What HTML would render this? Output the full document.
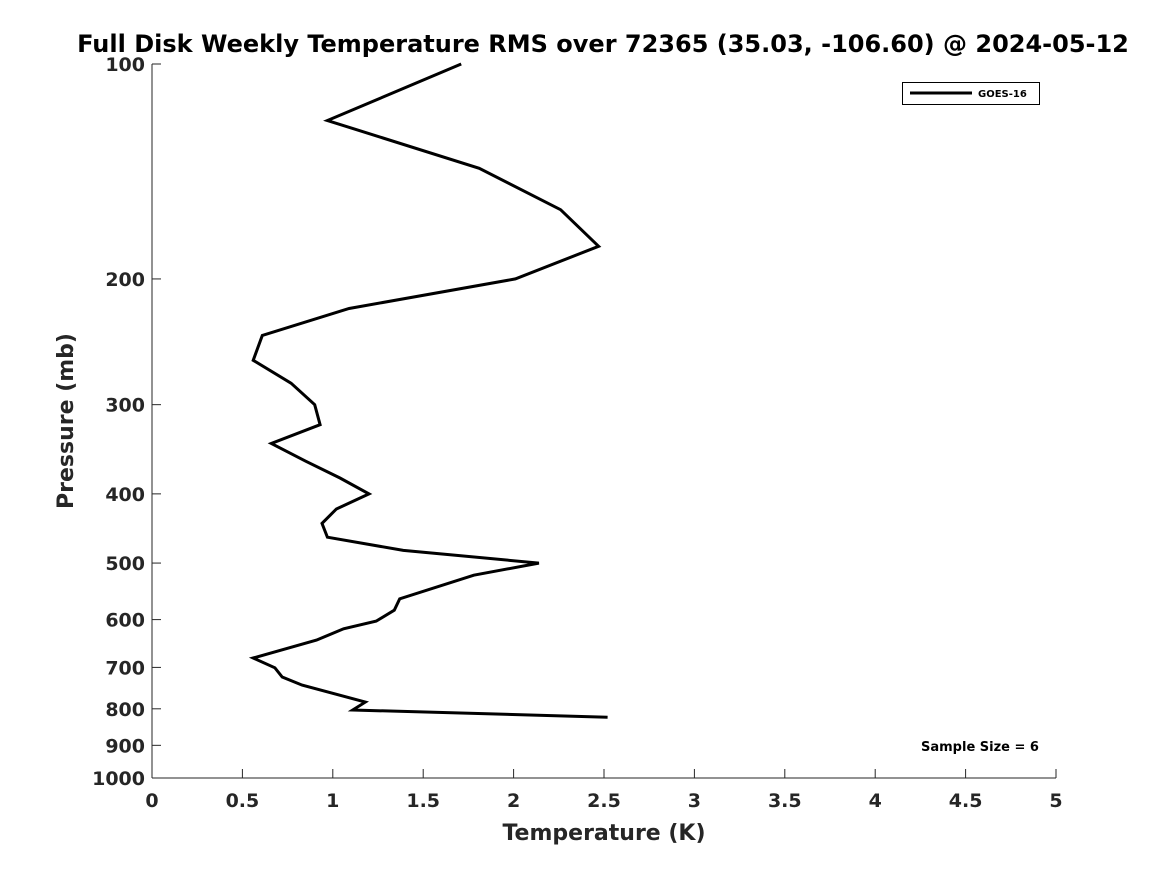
<!DOCTYPE html>
<html><head><meta charset="utf-8"><style>
body{margin:0;background:#fff;}
svg text{font-family:"DejaVu Sans","Liberation Sans",sans-serif;font-weight:bold;fill:#262626;}
</style></head><body>
<svg width="1167" height="875" xmlns="http://www.w3.org/2000/svg">
<rect width="1167" height="875" fill="#fff"/>
<text x="603" y="52" text-anchor="middle" font-size="24" style="fill:#000">Full Disk Weekly Temperature RMS over 72365 (35.03, -106.60) @ 2024-05-12</text>
<g id="axes"></g>
<g id="series"></g>
<rect x="902.5" y="82.5" width="137" height="22" fill="#fff" stroke="#000" stroke-width="1"/>
<line x1="910" y1="93" x2="972" y2="93" stroke="#000" stroke-width="3"/>
<text x="978" y="97" font-size="10" style="fill:#000">GOES-16</text>
<text x="921" y="751" font-size="13" style="fill:#000">Sample Size = 6</text>
<text x="604" y="840" text-anchor="middle" font-size="22">Temperature (K)</text>
<text transform="translate(73,421) rotate(-90)" text-anchor="middle" font-size="22">Pressure (mb)</text>
</svg>
<script>
const pressures=[100,120,140,160,180,200,220,240,260,280,300,320,340,360,380,400,420,440,460,480,500,520,561,582,603,618,641,679,701,722,741,783,803,822];
const rms=[1.71,0.97,1.81,2.26,2.47,2.01,1.09,0.61,0.56,0.77,0.90,0.93,0.66,0.85,1.04,1.20,1.02,0.94,0.97,1.39,2.14,1.78,1.37,1.34,1.24,1.06,0.91,0.56,0.68,0.72,0.83,1.18,1.11,2.52];
const xTicks=[0,0.5,1,1.5,2,2.5,3,3.5,4,4.5,5];
const xTickLabels=["0","0.5","1","1.5","2","2.5","3","3.5","4","4.5","5"];
const yTicks=[100,200,300,400,500,600,700,800,900,1000];
const NS="http://www.w3.org/2000/svg";
const X0=152,X1=1056,Y0=64,Y1=778;
function xs(v){return X0+(v-0)/(5-0)*(X1-X0);}
function ys(p){return Y0+(Math.log10(p)-2)*(Y1-Y0);}
function mk(t,a,parent){const e=document.createElementNS(NS,t);for(const k in a)e.setAttribute(k,a[k]);parent.appendChild(e);return e;}
const ax=document.getElementById('axes');
const yl=mk('line',{x1:X0,y1:Y0,x2:X0,y2:Y1,stroke:'#262626','stroke-width':1},ax);


const xl=mk('line',{x1:X0,y1:Y1,x2:X1,y2:Y1,stroke:'#262626','stroke-width':1},ax);


xTicks.forEach((v,i)=>{
  const x=xs(v);
  const t=mk('line',{x1:x,y1:Y1,x2:x,y2:Y1-9,stroke:'#262626','stroke-width':1},ax);
  
  
  const l=mk('text',{x:x,y:Y1+29,'text-anchor':'middle','font-size':19},ax);
  
  
  l.textContent=xTickLabels[i];
});
yTicks.forEach(p=>{
  const y=ys(p);
  const t=mk('line',{x1:X0,y1:y,x2:X0+9,y2:y,stroke:'#262626','stroke-width':1},ax);
  
  
  const l=mk('text',{x:X0-7,y:y+7,'text-anchor':'end','font-size':19},ax);
  
  
  l.textContent=String(p);
});
const pts=pressures.map((p,i)=>xs(rms[i]).toFixed(1)+','+ys(p).toFixed(1)).join(' ');
const pl=mk('polyline',{points:pts,fill:'none',stroke:'#000','stroke-width':3,'stroke-linejoin':'miter'},document.getElementById('series'));


</script>
</body></html>
